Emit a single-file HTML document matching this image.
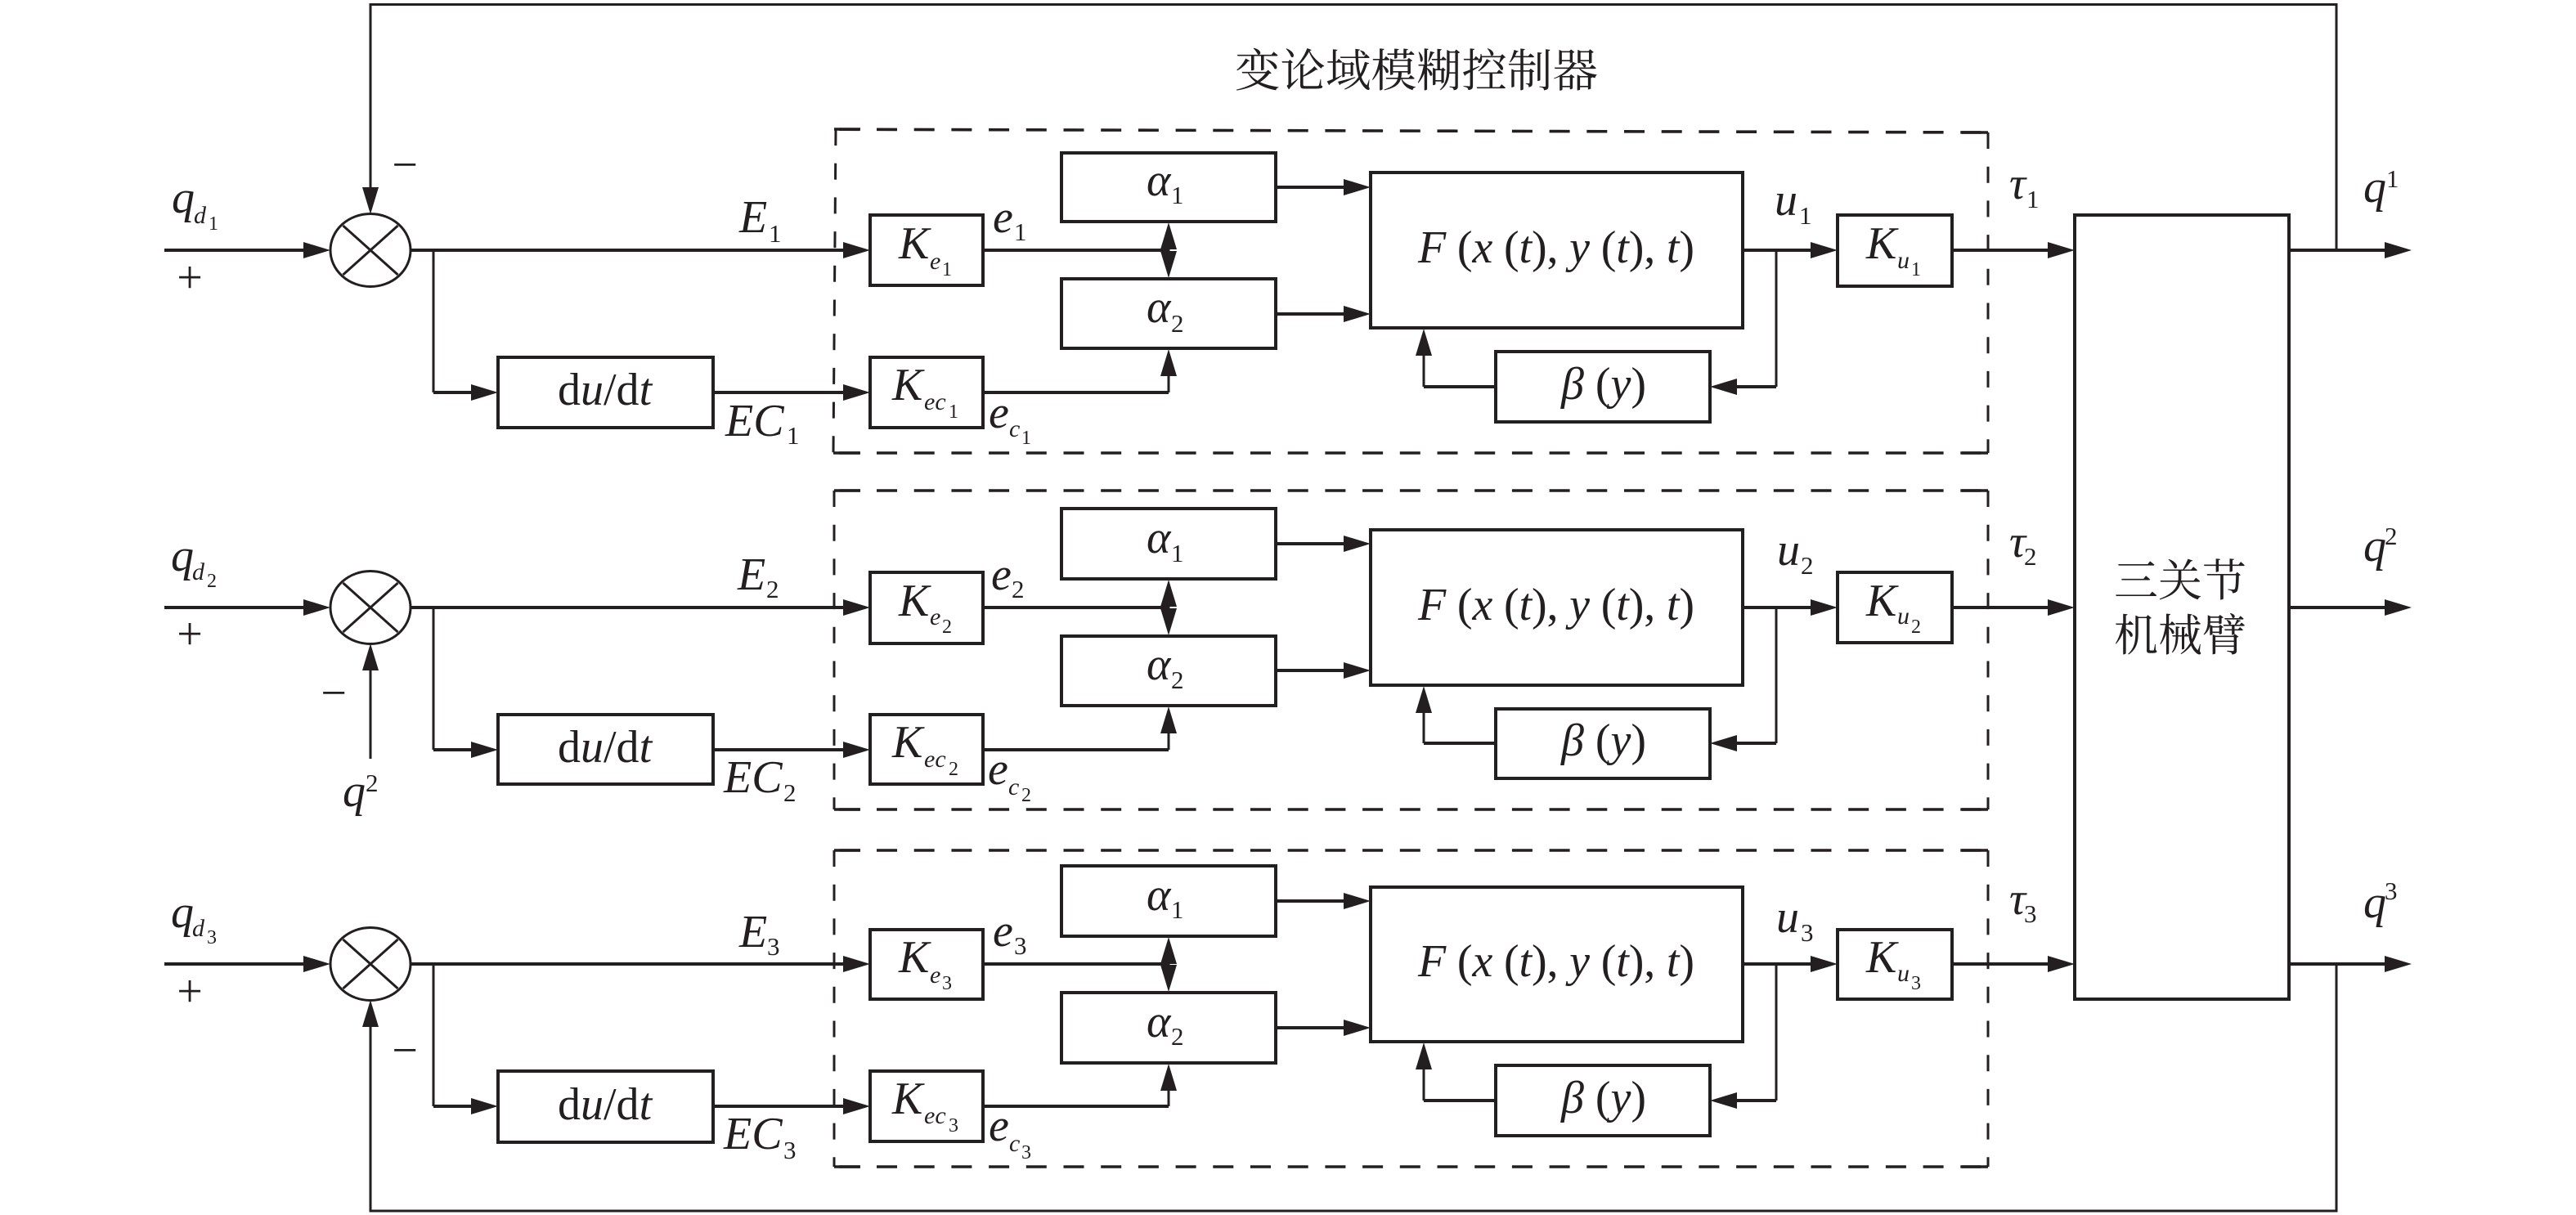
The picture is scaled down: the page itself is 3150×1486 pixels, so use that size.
<!DOCTYPE html>
<html lang="zh"><head><meta charset="utf-8"><title>变论域模糊控制器</title>
<style>
html,body{margin:0;padding:0;background:#fff}
svg{display:block}
.l{stroke:#231f20;stroke-width:4;fill:none}
.b{stroke:#231f20;stroke-width:4;fill:none}
.n{stroke:#231f20;stroke-width:3;fill:none}
.dh{stroke:#231f20;stroke-width:3.6;fill:none;stroke-dasharray:25 20.7}
.dv{stroke:#231f20;stroke-width:3;fill:none;stroke-dasharray:20 21.7}
text{fill:#231f20;font-family:"Liberation Serif","Noto Serif CJK SC",serif}
.m{font-size:56px;font-style:italic}
.s{font-size:30px;font-style:italic}
.d{font-size:31px}
.t{font-size:24px}
.u{font-style:normal}
.c{font-size:54px;font-family:"Noto Serif CJK SC","Liberation Serif",serif}
.p{font-size:56px;text-anchor:middle}
</style></head><body>
<svg width="3150" height="1486" viewBox="0 0 3150 1486" xmlns="http://www.w3.org/2000/svg">
<defs><path id="a" d="M0 0L-33-10V10Z" fill="#231f20"/></defs>
<rect width="3150" height="1486" fill="#fff"/>

<!-- Feedback -->
<path class="n" d="M2857 306V5.5H453V235"/>
<use href="#a" transform="translate(453,262) rotate(90)"/>
<path class="n" d="M2857 1180V1481H453V1250"/>
<use href="#a" transform="translate(453,1223) rotate(-90)"/>
<path class="n" d="M453 928V815"/>
<use href="#a" transform="translate(453,787) rotate(-90)"/>

<!-- Title -->
<text class="c" x="1510" y="106" style="font-size:55.5px">变论域模糊控制器</text>

<!-- Dashed boxes -->
<path class="dh" d="M1026.3 158.2L2431 162"/><path class="l" d="M1020 158H1052M2399 162H2431" style="stroke-width:3.6"/>
<path class="dv" d="M1022 158L1019 554"/><path class="dv" d="M2431 162V554"/>
<path class="dh" d="M1026.3 554H2431"/><path class="l" d="M1019 554H1052M2399 554H2431" style="stroke-width:3.6"/>

<path class="dh" d="M1026.3 600H2431"/><path class="l" d="M1020 600H1052M2399 600H2431" style="stroke-width:3.6"/>
<path class="dv" d="M1020 600V990"/><path class="dv" d="M2431 600V990"/>
<path class="dh" d="M1026.3 990H2431"/><path class="l" d="M1020 990H1052M2399 990H2431" style="stroke-width:3.6"/>

<path class="dh" d="M1026.3 1040H2431"/><path class="l" d="M1020 1040H1052M2399 1040H2431" style="stroke-width:3.6"/>
<path class="dv" d="M1020 1040V1427"/><path class="dv" d="M2431 1040V1427"/>
<path class="dh" d="M1026.3 1427H2431"/><path class="l" d="M1020 1427H1052M2399 1427H2431" style="stroke-width:3.6"/>

<!-- Big box -->
<rect class="b" x="2537" y="263" width="262" height="959"/>
<text class="c" x="2585" y="729">三关节</text>
<text class="c" x="2585" y="796">机械臂</text>

<!-- ROW 1 -->
<ellipse class="n" cx="453" cy="306" rx="49" ry="44.5"/>
<path class="n" d="M419.5 276L486.5 336M419.5 336L486.5 276"/>
<path class="l" d="M201 306H375M502 306H1035M872 480H1035M1202 306H1429M1202 480H1429M1560 229H1645M1560 384H1645M2131 306H2216M2387 306H2506M2799 306H2918M530 480H580"/>
<path class="n" d="M530 306V480M1429 480V450M1429 300V310M2172 306V473M1741 473V430"/>
<path class="l" d="M2172 473H2120M1829 473H1741"/>
<use href="#a" transform="translate(404,306)"/><use href="#a" transform="translate(609,480)"/>
<use href="#a" transform="translate(1064,306)"/><use href="#a" transform="translate(1064,480)"/>
<use href="#a" transform="translate(1429,272) rotate(-90)"/><use href="#a" transform="translate(1429,340) rotate(90)"/>
<use href="#a" transform="translate(1429,427) rotate(-90)"/>
<use href="#a" transform="translate(1676,229)"/><use href="#a" transform="translate(1676,384)"/>
<use href="#a" transform="translate(1741,402) rotate(-90)"/><use href="#a" transform="translate(2091,473) rotate(180)"/>
<use href="#a" transform="translate(2247,306)"/><use href="#a" transform="translate(2537,306)"/><use href="#a" transform="translate(2949,306)"/>
<g fill="#fff">
<rect class="b" x="609" y="437" width="263" height="86"/>
<rect class="b" x="1064" y="263" width="138" height="86"/>
<rect class="b" x="1064" y="437" width="138" height="86"/>
<rect class="b" x="1298" y="187" width="262" height="84"/>
<rect class="b" x="1298" y="341" width="262" height="85"/>
<rect class="b" x="1676" y="211" width="455" height="190"/>
<rect class="b" x="1829" y="430" width="262" height="86"/>
<rect class="b" x="2247" y="263" width="140" height="87"/>
</g>
<text class="m" x="210" y="260">q</text><text class="s" x="237" y="273">d</text><text class="t" x="255" y="281">1</text>
<text class="p" x="232" y="358">+</text><text class="p" x="495" y="220">−</text>
<text class="m" x="904" y="284">E</text><text class="d" x="940" y="296">1</text>
<text class="m" x="887" y="533">EC</text><text class="d" x="962" y="543">1</text>
<text class="m" x="682" y="495"><tspan class="u">d</tspan>u<tspan class="u">/d</tspan>t</text>
<text class="m" x="1099" y="316">K</text><text class="s" x="1137" y="329">e</text><text class="t" x="1152" y="337">1</text>
<text class="m" x="1091" y="489">K</text><text class="s" x="1130" y="501">ec</text><text class="t" x="1160" y="511">1</text>
<text class="m" x="1214" y="284">e</text><text class="d" x="1240" y="294">1</text>
<text class="m" x="1209" y="523">e</text><text class="s" x="1234" y="534">c</text><text class="t" x="1249" y="543">1</text>
<text class="m" x="1402" y="239">α</text><text class="d" x="1432" y="249">1</text>
<text class="m" x="1402" y="394">α</text><text class="d" x="1432" y="406">2</text>
<text class="m" x="1734" y="321" textLength="338" lengthAdjust="spacing">F <tspan class="u">(</tspan>x <tspan class="u">(</tspan>t<tspan class="u">),</tspan> y <tspan class="u">(</tspan>t<tspan class="u">),</tspan> t<tspan class="u">)</tspan></text>
<text class="m" x="1909" y="488">β <tspan class="u">(</tspan>y<tspan class="u">)</tspan></text>
<text class="m" x="2170" y="263">u</text><text class="d" x="2200" y="274">1</text>
<text class="m" x="2282" y="316">K</text><text class="s" x="2320" y="328">u</text><text class="t" x="2337" y="337">1</text>
<text class="m" x="2457" y="243">τ</text><text class="d" x="2478" y="254">1</text>
<text class="m" x="2890" y="247">q</text><text class="d" x="2918" y="229">1</text>

<!-- ROW 2 -->
<ellipse class="n" cx="453" cy="743" rx="49" ry="44.5"/>
<path class="n" d="M419.5 713L486.5 773M419.5 773L486.5 713"/>
<path class="l" d="M201 743H375M502 743H1035M872 917H1035M1202 743H1429M1202 917H1429M1560 665H1645M1560 820H1645M2131 743H2216M2387 743H2506M2799 743H2918M530 917H580"/>
<path class="n" d="M530 743V917M1429 917V890M1429 735V750M2172 743V909M1741 909V870"/>
<path class="l" d="M2172 909H2120M1829 909H1741"/>
<use href="#a" transform="translate(404,743)"/><use href="#a" transform="translate(609,917)"/>
<use href="#a" transform="translate(1064,743)"/><use href="#a" transform="translate(1064,917)"/>
<use href="#a" transform="translate(1429,709) rotate(-90)"/><use href="#a" transform="translate(1429,777) rotate(90)"/>
<use href="#a" transform="translate(1429,864) rotate(-90)"/>
<use href="#a" transform="translate(1676,665)"/><use href="#a" transform="translate(1676,820)"/>
<use href="#a" transform="translate(1741,839) rotate(-90)"/><use href="#a" transform="translate(2091,909) rotate(180)"/>
<use href="#a" transform="translate(2247,743)"/><use href="#a" transform="translate(2537,743)"/><use href="#a" transform="translate(2949,743)"/>
<g fill="#fff">
<rect class="b" x="609" y="874" width="263" height="85"/>
<rect class="b" x="1064" y="700" width="138" height="87"/>
<rect class="b" x="1064" y="874" width="138" height="85"/>
<rect class="b" x="1298" y="622" width="262" height="86"/>
<rect class="b" x="1298" y="778" width="262" height="85"/>
<rect class="b" x="1676" y="648" width="455" height="190"/>
<rect class="b" x="1829" y="867" width="262" height="85"/>
<rect class="b" x="2247" y="700" width="140" height="86"/>
</g>
<text class="m" x="209" y="698">q</text><text class="s" x="235" y="709">d</text><text class="t" x="253" y="718">2</text>
<text class="p" x="232" y="794">+</text><text class="p" x="408" y="866">−</text>
<text class="m" x="419" y="986">q</text><text class="d" x="447" y="968">2</text>
<text class="m" x="902" y="721">E</text><text class="d" x="937" y="731">2</text>
<text class="m" x="885" y="969">EC</text><text class="d" x="958" y="980">2</text>
<text class="m" x="682" y="932"><tspan class="u">d</tspan>u<tspan class="u">/d</tspan>t</text>
<text class="m" x="1099" y="753">K</text><text class="s" x="1137" y="764">e</text><text class="t" x="1152" y="774">2</text>
<text class="m" x="1091" y="926">K</text><text class="s" x="1130" y="938">ec</text><text class="t" x="1160" y="948">2</text>
<text class="m" x="1212" y="721">e</text><text class="d" x="1237" y="731">2</text>
<text class="m" x="1208" y="959">e</text><text class="s" x="1233" y="972">c</text><text class="t" x="1249" y="980">2</text>
<text class="m" x="1402" y="676">α</text><text class="d" x="1432" y="687">1</text>
<text class="m" x="1402" y="831">α</text><text class="d" x="1432" y="842">2</text>
<text class="m" x="1734" y="758" textLength="338" lengthAdjust="spacing">F <tspan class="u">(</tspan>x <tspan class="u">(</tspan>t<tspan class="u">),</tspan> y <tspan class="u">(</tspan>t<tspan class="u">),</tspan> t<tspan class="u">)</tspan></text>
<text class="m" x="1909" y="924">β <tspan class="u">(</tspan>y<tspan class="u">)</tspan></text>
<text class="m" x="2173" y="691">u</text><text class="d" x="2202" y="702">2</text>
<text class="m" x="2282" y="753">K</text><text class="s" x="2320" y="763">u</text><text class="t" x="2337" y="774">2</text>
<text class="m" x="2457" y="681">τ</text><text class="d" x="2475" y="691">2</text>
<text class="m" x="2890" y="686">q</text><text class="d" x="2916" y="666">2</text>

<!-- ROW 3 -->
<ellipse class="n" cx="453" cy="1179" rx="49" ry="44.5"/>
<path class="n" d="M419.5 1149L486.5 1209M419.5 1209L486.5 1149"/>
<path class="l" d="M201 1179H375M502 1179H1035M872 1353H1035M1202 1179H1429M1202 1353H1429M1560 1102H1645M1560 1257H1645M2131 1179H2216M2387 1179H2506M2799 1179H2918M530 1353H580"/>
<path class="n" d="M530 1179V1353M1429 1353V1325M1429 1170V1190M2172 1179V1346M1741 1346V1305"/>
<path class="l" d="M2172 1346H2120M1829 1346H1741"/>
<use href="#a" transform="translate(404,1179)"/><use href="#a" transform="translate(609,1353)"/>
<use href="#a" transform="translate(1064,1179)"/><use href="#a" transform="translate(1064,1353)"/>
<use href="#a" transform="translate(1429,1146) rotate(-90)"/><use href="#a" transform="translate(1429,1213) rotate(90)"/>
<use href="#a" transform="translate(1429,1301) rotate(-90)"/>
<use href="#a" transform="translate(1676,1102)"/><use href="#a" transform="translate(1676,1257)"/>
<use href="#a" transform="translate(1741,1275) rotate(-90)"/><use href="#a" transform="translate(2091,1346) rotate(180)"/>
<use href="#a" transform="translate(2247,1179)"/><use href="#a" transform="translate(2537,1179)"/><use href="#a" transform="translate(2949,1179)"/>
<g fill="#fff">
<rect class="b" x="609" y="1310" width="263" height="87"/>
<rect class="b" x="1064" y="1137" width="138" height="85"/>
<rect class="b" x="1064" y="1310" width="138" height="86"/>
<rect class="b" x="1298" y="1059" width="262" height="86"/>
<rect class="b" x="1298" y="1214" width="262" height="86"/>
<rect class="b" x="1676" y="1085" width="455" height="189"/>
<rect class="b" x="1829" y="1303" width="262" height="86"/>
<rect class="b" x="2247" y="1137" width="140" height="85"/>
</g>
<text class="m" x="209" y="1134">q</text><text class="s" x="235" y="1145">d</text><text class="t" x="253" y="1154">3</text>
<text class="p" x="232" y="1231">+</text><text class="p" x="495" y="1303">−</text>
<text class="m" x="904" y="1158">E</text><text class="d" x="938" y="1168">3</text>
<text class="m" x="885" y="1405">EC</text><text class="d" x="958" y="1417">3</text>
<text class="m" x="682" y="1369"><tspan class="u">d</tspan>u<tspan class="u">/d</tspan>t</text>
<text class="m" x="1099" y="1189">K</text><text class="s" x="1137" y="1202">e</text><text class="t" x="1152" y="1210">3</text>
<text class="m" x="1091" y="1362">K</text><text class="s" x="1130" y="1374">ec</text><text class="t" x="1160" y="1384">3</text>
<text class="m" x="1214" y="1157">e</text><text class="d" x="1240" y="1167">3</text>
<text class="m" x="1209" y="1395">e</text><text class="s" x="1234" y="1408">c</text><text class="t" x="1249" y="1417">3</text>
<text class="m" x="1402" y="1113">α</text><text class="d" x="1432" y="1123">1</text>
<text class="m" x="1402" y="1268">α</text><text class="d" x="1432" y="1278">2</text>
<text class="m" x="1734" y="1194" textLength="338" lengthAdjust="spacing">F <tspan class="u">(</tspan>x <tspan class="u">(</tspan>t<tspan class="u">),</tspan> y <tspan class="u">(</tspan>t<tspan class="u">),</tspan> t<tspan class="u">)</tspan></text>
<text class="m" x="1909" y="1361">β <tspan class="u">(</tspan>y<tspan class="u">)</tspan></text>
<text class="m" x="2172" y="1140">u</text><text class="d" x="2202" y="1151">3</text>
<text class="m" x="2282" y="1189">K</text><text class="s" x="2320" y="1200">u</text><text class="t" x="2337" y="1210">3</text>
<text class="m" x="2457" y="1118">τ</text><text class="d" x="2475" y="1128">3</text>
<text class="m" x="2890" y="1122">q</text><text class="d" x="2916" y="1100">3</text>
</svg>
</body></html>
